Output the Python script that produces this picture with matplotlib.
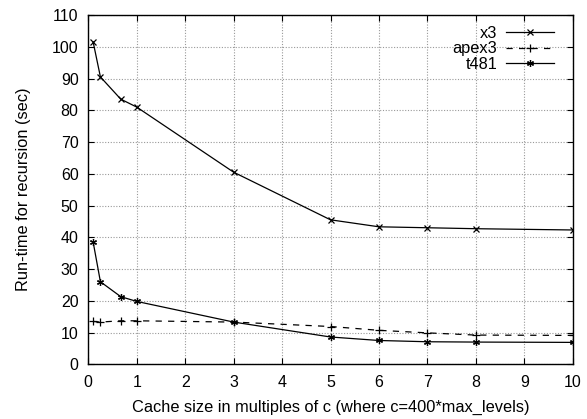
import matplotlib
matplotlib.use("Agg")
import matplotlib.pyplot as plt

plt.rcParams['font.family'] = ['Liberation Sans', 'DejaVu Sans']

x = [0.1, 0.25, 0.67, 1, 3, 5, 6, 7, 8, 10]
x3 = [101.5, 90.5, 83.5, 81, 60.5, 45.5, 43.3, 43, 42.7, 42.3]
apex3 = [13.5, 13.3, 13.7, 13.7, 13.3, 11.9, 10.7, 9.9, 9.2, 9.1]
t481 = [38.5, 26, 21.3, 19.8, 13.3, 8.6, 7.5, 7.1, 7.0, 6.9]

xticks = list(range(0, 11))
yticks = list(range(0, 111, 10))

FS = 11.5
LFS = 11.8
fig = plt.figure(figsize=(5.87, 4.19), dpi=100)
ax = fig.add_axes([88.3 / 587, 1 - 364.3 / 419, 484.4 / 587, 349.3 / 419])

ax.plot(x, x3, color='black', lw=0.9, marker='x', ms=5, mew=0.9, label='x3')
ax.plot(x, apex3, color='black', lw=0.9, ls=(0, (5, 5)), marker='+', ms=6, mew=0.9, label='apex3')
ax.plot(x, t481, color='black', lw=0.9, marker=(6, 2, 0), ms=5, mew=0.9, label='t481')

ax.set_xlim(0, 10)
ax.set_ylim(0, 110)
ax.set_xticks(xticks)
ax.set_yticks(yticks)
ax.grid(True, color='#999999', ls=(0, (1, 1.5)), lw=0.8)
ax.tick_params(direction='in', top=True, right=True, labelsize=FS, length=4)
ax.tick_params(axis='x', pad=8)
ax.tick_params(axis='y', pad=7)
for s in ax.spines.values():
    s.set_linewidth(1.0)

ax.set_xlabel('Cache size in multiples of c (where c=400*max_levels)', fontsize=LFS, labelpad=7)
ax.set_ylabel('Run-time for recursion (sec)', fontsize=LFS, labelpad=15)

leg = ax.legend(loc='upper right', bbox_to_anchor=(1 - 19 / 484.4, 1 - 11 / 349.3),
                markerfirst=False, frameon=False, fontsize=LFS,
                handlelength=2.9, labelspacing=0.02, borderaxespad=0, borderpad=0,
                handletextpad=0.55)

fig.savefig('out.png', dpi=100)
